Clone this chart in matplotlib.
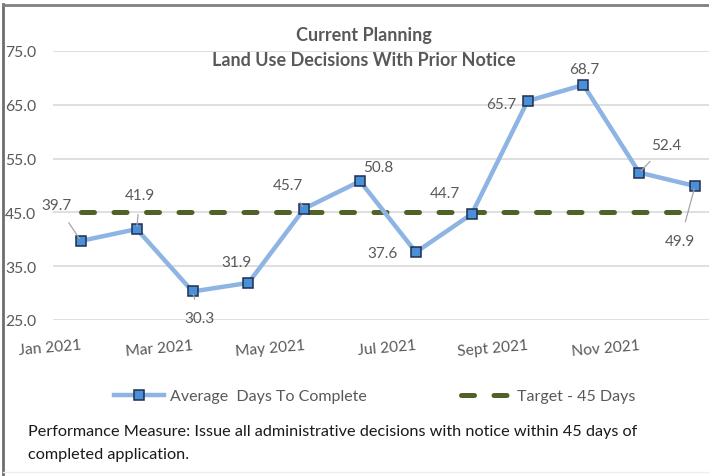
import matplotlib
matplotlib.use("Agg")
import matplotlib.pyplot as plt
from matplotlib.lines import Line2D
import numpy as np

plt.rcParams['font.family'] = ['Lato', 'DejaVu Sans']

months = ["Jan 2021", "Feb 2021", "Mar 2021", "Apr 2021", "May 2021", "Jun 2021",
          "Jul 2021", "Aug 2021", "Sept 2021", "Oct 2021", "Nov 2021", "Dec 2021"]
avg_days = [39.7, 41.9, 30.3, 31.9, 45.7, 50.8, 37.6, 44.7, 65.7, 68.7, 52.4, 49.9]
target = [45.0] * 12
yticks = [25.0, 35.0, 45.0, 55.0, 65.0, 75.0]
shown_tick_idx = [0, 2, 4, 6, 8, 10]

# label offsets in pixels (dx, dy up) and whether to draw leader line
label_offsets = [(-24, 36), (3, 34), (7, -27), (-12, 21), (-16, 24), (18, 14),
                 (-33, -1), (-27, 21), (-26, -3), (1, 16), (27, 28), (-15, -55)]
leaders = [True, True, True, False, True, False, False, False, False, False, True, True]

W, H = 709, 477
fig = plt.figure(figsize=(W / 100, H / 100), dpi=100)
ax_left, ax_right = 53, 723
ax_top, ax_bot = 52, 321
ax = fig.add_axes([ax_left / W, 1 - ax_bot / H, (ax_right - ax_left) / W, (ax_bot - ax_top) / H])

x = np.arange(len(months))
ax.set_xlim(-0.5, len(months) - 0.5)
ax.set_ylim(25, 75)

for s in ax.spines.values():
    s.set_visible(False)

ax.set_yticks(yticks)
ax.set_yticklabels([f"{v:.1f}" for v in yticks], fontsize=11.3, color="#595959")
ax.yaxis.grid(True, color="#D9D9D9", linewidth=1.2)
ax.set_axisbelow(True)
ax.tick_params(axis='y', length=0, pad=12)

ax.set_xticks(x[shown_tick_idx])
ax.set_xticklabels([months[i] for i in shown_tick_idx], fontsize=11.2, color="#595959",
                   rotation=5, ha='right', rotation_mode='anchor')
ax.tick_params(axis='x', length=0, pad=13)

tline, = ax.plot(x, target, color="#4F6228", linewidth=3.6, linestyle=(0, (2.6, 3.9)),
                 dash_capstyle='round', zorder=2)
aline, = ax.plot(x, avg_days, color="#8DB4E2", linewidth=3.2, marker='s', markersize=6.5,
                 markerfacecolor="#4A90D9", markeredgecolor="#1F2F4F", markeredgewidth=1.1,
                 zorder=3, clip_on=False)

px2pt = 72 / 100
for i, v in enumerate(avg_days):
    dx, dy = label_offsets[i]
    ax.annotate(f"{v:.1f}", (x[i], v), xytext=(dx * px2pt, dy * px2pt),
                textcoords='offset points', ha='center', va='center',
                fontsize=11, color="#595959", zorder=5,
                arrowprops=dict(arrowstyle='-', color="#A6A6A6", lw=0.9,
                                shrinkA=7, shrinkB=2) if leaders[i] else None)

fig.text(364 / W, 1 - 35 / H, "Current Planning", ha='center', va='center',
         fontsize=13, fontweight='bold', color="#595959")
fig.text(364 / W, 1 - 61 / H, "Land Use Decisions With Prior Notice", ha='center', va='center',
         fontsize=13, fontweight='bold', color="#595959")

handles = [Line2D([], [], color="#8DB4E2", linewidth=3.2, marker='s', markersize=6.5,
                  markerfacecolor="#4A90D9", markeredgecolor="#1F2F4F", markeredgewidth=1.1),
           Line2D([], [], color="#4F6228", linewidth=3.6, linestyle=(0, (2.6, 3.9)),
                  dash_capstyle='round')]
fig.legend(handles, ["Average  Days To Complete", "Target - 45 Days"],
           loc='center', bbox_to_anchor=(375 / W, 1 - 397 / H), ncol=2, frameon=False,
           fontsize=11.5, labelcolor="#595959", handlelength=3.1, columnspacing=5.9,
           handletextpad=0.4)

fig.text(28 / W, 1 - 432 / H,
         "Performance Measure: Issue all administrative decisions with notice within 45 days of",
         ha='left', va='center', fontsize=11.7, color="#1A1A1A")
fig.text(28 / W, 1 - 455 / H, "completed application.", ha='left', va='center',
         fontsize=11.7, color="#1A1A1A")

# outer border lines
fig.add_artist(Line2D([3 / W, 3 / W], [0, 1 - 5 / H], transform=fig.transFigure,
                      color="#6E6E6E", linewidth=2))
fig.add_artist(Line2D([3 / W, 1], [1 - 5.5 / H, 1 - 5.5 / H], transform=fig.transFigure,
                      color="#808080", linewidth=2))
fig.add_artist(Line2D([3 / W, 1], [1 - 473 / H, 1 - 473 / H], transform=fig.transFigure,
                      color="#EEEEEE", linewidth=1))

fig.savefig("out.png", dpi=100)
